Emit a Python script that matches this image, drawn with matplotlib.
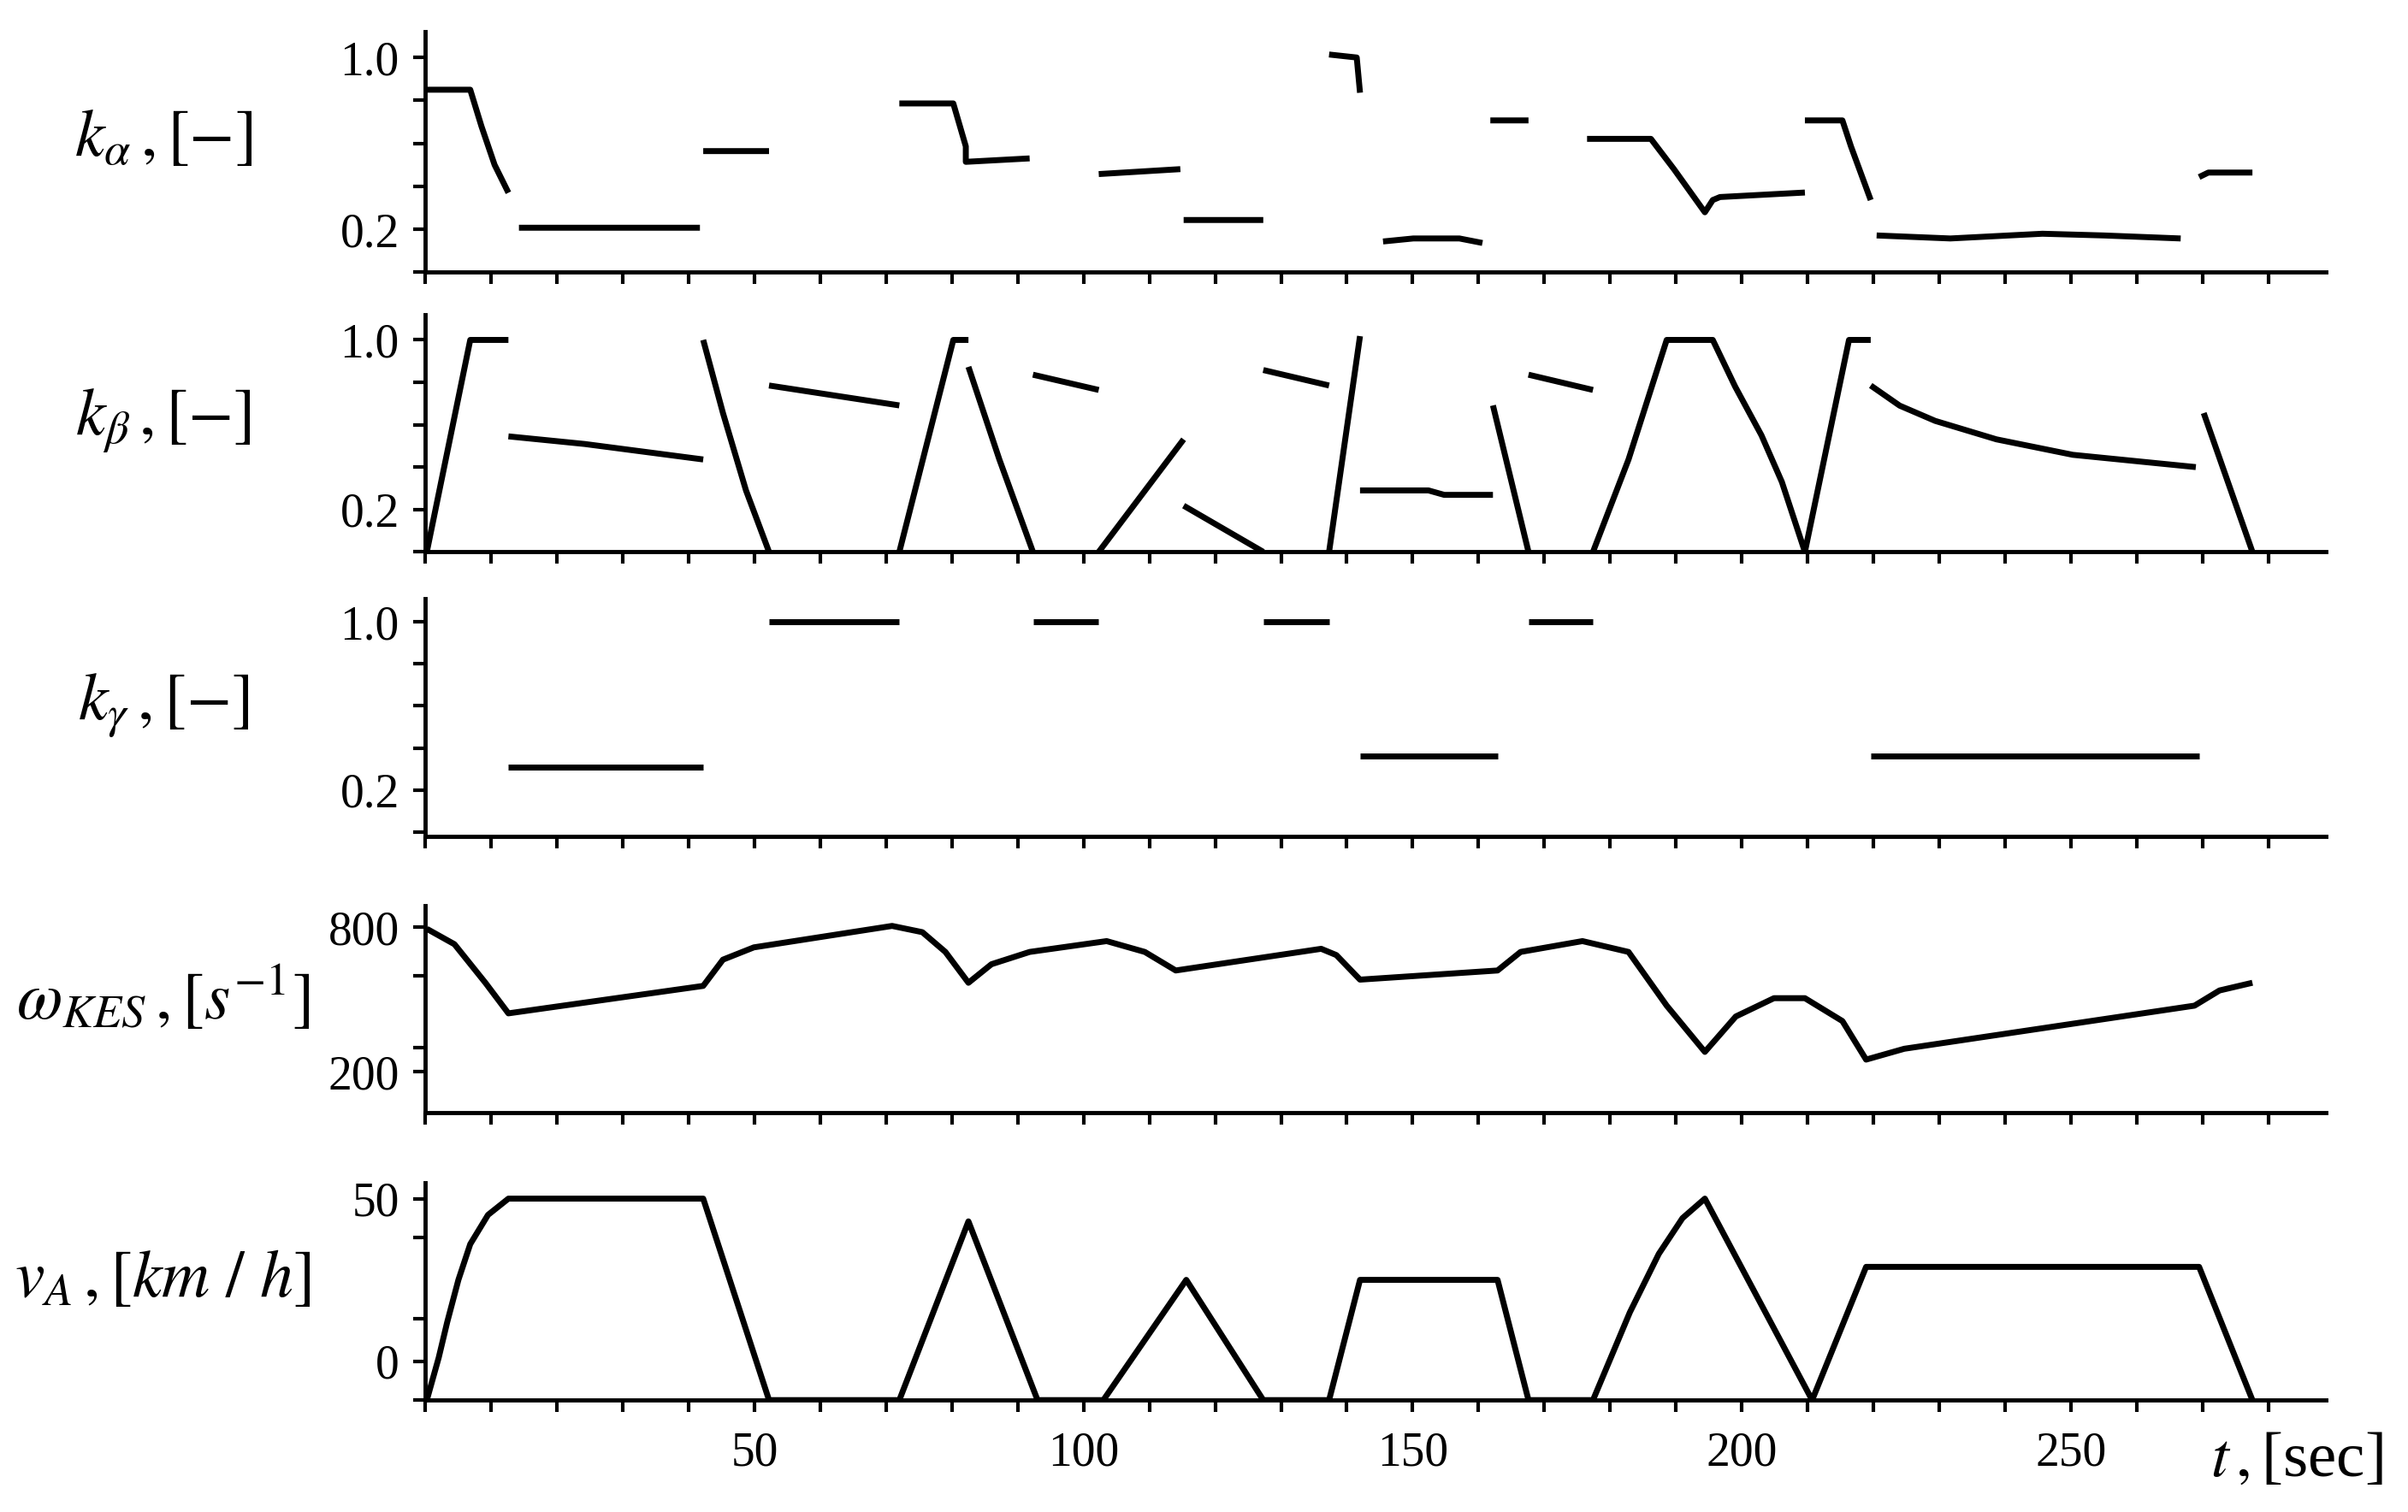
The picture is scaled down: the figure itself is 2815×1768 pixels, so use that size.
import numpy as np
import matplotlib
matplotlib.use("Agg")
import matplotlib.pyplot as plt
from matplotlib.ticker import MultipleLocator

plt.rcParams["font.family"] = ["Liberation Serif", "DejaVu Serif"]
plt.rcParams["mathtext.fontset"] = "stix"

nan = np.nan

# k_alpha (segments separated by nan)
ka_t = [0.2, 6.8, 8.5, 10.5, 12.6, nan, 14.2, 41.7, nan, 42.2, 52.2, nan,
        72.0, 80.2, 82.1, 82.1, 91.8, nan, 102.3, 114.7, nan, 115.2, 127.3, nan,
        137.3, 141.5, 142.0, nan, 145.5, 150.1, 157.1, 160.6, nan, 161.8, 167.6, nan,
        176.5, 186.2, 189.7, 194.4, 195.6, 196.7, 209.6, nan,
        209.6, 215.3, 216.6, 219.6, nan,
        220.5, 231.7, 245.7, 255.0, 266.7, nan, 269.5, 270.9, 277.6]
ka_v = [0.85, 0.85, 0.68, 0.5, 0.37, nan, 0.207, 0.207, nan, 0.564, 0.564, nan,
        0.786, 0.786, 0.586, 0.514, 0.53, nan, 0.457, 0.48, nan, 0.243, 0.243, nan,
        1.014, 1.0, 0.836, nan, 0.143, 0.157, 0.157, 0.136, nan, 0.707, 0.707, nan,
        0.621, 0.621, 0.48, 0.279, 0.336, 0.35, 0.371, nan,
        0.707, 0.707, 0.586, 0.336, nan,
        0.171, 0.157, 0.179, 0.171, 0.157, nan, 0.443, 0.464, 0.464]

# k_beta
kb_t = [0.2, 6.8, 12.6, nan, 12.6, 24.2, 42.2, nan, 42.2, 45.2, 48.7, 52.2, nan,
        52.2, 72.0, nan, 72.0, 80.2, 82.5, nan, 82.5, 87.2, 92.3, nan,
        92.3, 102.3, nan, 102.3, 115.2, nan, 115.2, 127.3, nan, 127.3, 137.3, nan,
        137.3, 142.0, nan, 142.0, 152.4, 154.8, 162.2, nan, 162.2, 167.6, nan,
        167.6, 177.4, nan, 177.4, 182.8, 188.6, 195.6, 199.0, 203.0, 206.1, 209.6, nan,
        209.6, 216.3, 219.6, nan, 219.6, 224.0, 229.4, 238.7, 250.3, 269.0, nan, 270.2, 277.6]
kb_v = [0.0, 1.0, 1.0, nan, 0.545, 0.509, 0.436, nan, 1.0, 0.655, 0.29, 0.0, nan,
        0.785, 0.691, nan, 0.0, 1.0, 1.0, nan, 0.873, 0.436, 0.0, nan,
        0.836, 0.764, nan, 0.0, 0.531, nan, 0.218, 0.0, nan, 0.858, 0.785, nan,
        0.0, 1.018, nan, 0.29, 0.29, 0.269, 0.269, nan, 0.691, 0.0, nan,
        0.836, 0.764, nan, 0.0, 0.436, 1.0, 1.0, 0.78, 0.55, 0.33, 0.0, nan,
        0.0, 1.0, 1.0, nan, 0.785, 0.69, 0.618, 0.531, 0.458, 0.4, nan, 0.655, 0.0]

# k_gamma
kg_t = [12.6, 42.2, nan, 52.2, 72.0, nan, 92.3, 102.3, nan, 127.3, 137.3, nan,
        142.0, 162.9, nan, 167.6, 177.4, nan, 219.6, 269.5]
kg_v = [0.31, 0.31, nan, 1.0, 1.0, nan, 1.0, 1.0, nan, 1.0, 1.0, nan,
        0.36, 0.36, nan, 1.0, 1.0, nan, 0.36, 0.36]

# omega_KES
w_t = [0.2, 4.4, 9.1, 12.6, 42.2, 45.2, 49.9, 70.9, 75.5, 79.0, 82.5, 86.0,
       91.8, 103.5, 109.3, 114.0, 136.1, 138.4, 142.0, 162.9, 166.4, 175.8,
       182.8, 188.6, 194.4, 199.1, 204.9, 209.6, 215.3, 218.9, 224.7, 268.8,
       272.6, 277.6]
w_v = [794, 730, 570, 443, 557, 666, 717, 806, 780, 698, 570, 647,
       698, 743, 698, 621, 711, 685, 583, 621, 698, 743,
       698, 475, 283, 430, 506, 506, 411, 251, 296, 475,
       538, 570]

# v_A
v_t = [0.2, 2.0, 3.3, 5.0, 6.8, 9.5, 12.6, 42.2, 52.2, 72.0, 82.5, 93.0, 103.0,
       115.6, 127.3, 137.3, 142.0, 162.9, 167.6, 177.4, 183.0, 187.4, 191.0,
       194.4, 210.7, 218.9, 269.5, 277.6]
v_v = [0, 13, 24, 37, 48, 57, 62, 62, 0, 0, 55, 0, 0,
       37, 0, 0, 37, 37, 0, 0, 27, 45, 56,
       62, 0, 41, 41, 0]

fig = plt.figure(figsize=(28.15, 17.68), dpi=100)
left, width = 0.1767, 0.7893
rows = [(0.820, 0.159), (0.635, 0.157), (0.447, 0.157), (0.264, 0.137), (0.074, 0.144)]

panels = [
    (ka_t, ka_v, r"$k_{\alpha}\,,[-]$", (0, 1.12), [0.2, 1.0], ["0.2", "1.0"], 0.2),
    (kb_t, kb_v, r"$k_{\beta}\,,[-]$", (0, 1.12), [0.2, 1.0], ["0.2", "1.0"], 0.2),
    (kg_t, kg_v, r"$k_{\gamma}\,,[-]$", (-0.02, 1.11), [0.2, 1.0], ["0.2", "1.0"], 0.2),
    (w_t, w_v, r"$\omega_{KES}\,,[s^{-1}]$", (30, 890), [200, 800], ["200", "800"], 300),
    (v_t, v_v, r"$v_{A}\,,[km\ /\ h]$", (0, 67), [12, 62], ["0", "50"], 25),
]

for i, ((b, h), (t, v, lab, ylim, yt, ytl, ystep)) in enumerate(zip(rows, panels)):
    ax = fig.add_axes([left, b, width, h])
    ax.plot(t, v, color="black", lw=5, solid_capstyle="butt")
    ax.set_xlim(0, 288.8)
    ax.set_ylim(*ylim)
    for s in ["top", "right"]:
        ax.spines[s].set_visible(False)
    for s in ["left", "bottom"]:
        ax.spines[s].set_linewidth(3.5)
    ax.xaxis.set_minor_locator(MultipleLocator(10))
    ax.set_xticks([50, 100, 150, 200, 250])
    ax.set_yticks(yt)
    ax.set_yticklabels(ytl, fontsize=40)
    ax.yaxis.set_minor_locator(MultipleLocator(ystep))
    ax.tick_params(axis="both", which="both", direction="out", width=3, length=10)
    ax.tick_params(axis="y", which="major", pad=12)
    ax.set_ylabel(lab, fontsize=56, rotation=0, ha="center", va="center", labelpad=0)
    ax.yaxis.set_label_coords(-0.138, 0.55)
    if i < len(rows) - 1:
        ax.set_xticklabels([])
    else:
        ax.set_xticklabels(["50", "100", "150", "200", "250"], fontsize=40)
        ax.tick_params(axis="x", which="major", pad=16)
        ax.text(1.03, -0.28, r"$t\,,$[sec]", transform=ax.transAxes, fontsize=54,
                ha="right", va="center")

fig.savefig("out.png", dpi=100)
